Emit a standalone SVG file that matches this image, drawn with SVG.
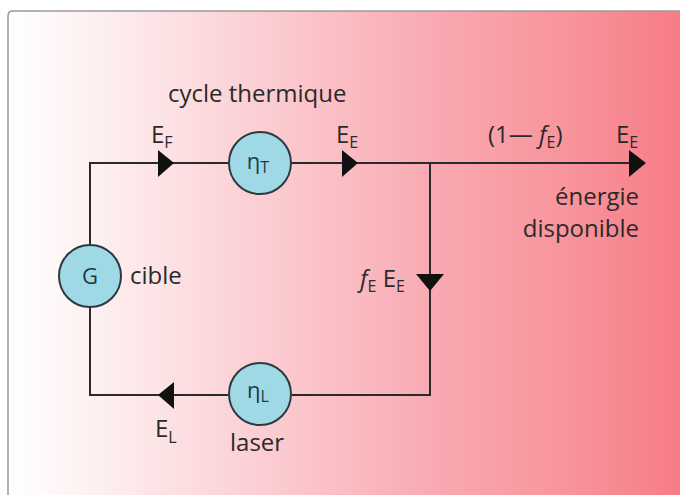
<svg xmlns="http://www.w3.org/2000/svg" width="680" height="501" viewBox="0 0 680 501">
<defs>
<linearGradient id="bg" x1="0" y1="0" x2="1" y2="0">
<stop offset="0" stop-color="#ffffff"/>
<stop offset="0.12" stop-color="#fef1f2"/>
<stop offset="0.38" stop-color="#fbcdd2"/>
<stop offset="0.62" stop-color="#f9aab2"/>
<stop offset="0.82" stop-color="#f8949c"/>
<stop offset="1" stop-color="#f77a86"/>
</linearGradient>
<style>
.ln{fill:none;stroke:#2a2a2a;stroke-width:2}
.ah{fill:#111}
.nd{fill:#9fd9e6;stroke:#2c3a40;stroke-width:2}
.t{font-family:"Open Sans","Liberation Sans",Arial,sans-serif;font-size:24px;fill:#2a2a2a}
.nt{font-family:"Open Sans","Liberation Sans",Arial,sans-serif;font-size:22px;fill:#1e3a48}
.s{font-size:16px}
.i{font-style:italic}
</style>
</defs>
<rect x="0" y="0" width="680" height="501" fill="#ffffff"/>
<path d="M8 495 V16 Q8 11 13 11 H690 V495 Z" fill="url(#bg)"/>
<path d="M8 495 V16 Q8 11 13 11 H680" fill="none" stroke="#9a9a9a" stroke-width="1.5"/>

<g id="connectors">
<path class="ln" d="M90 245 V163 H229"/>
<path class="ln" d="M291 163 H632"/>
<path class="ln" d="M430 163 V395 H292"/>
<path class="ln" d="M228 395 H90 V307"/>
<polygon class="ah" points="158,150 174,163 158,177"/>
<polygon class="ah" points="342,150 358,163 342,177"/>
<polygon class="ah" points="629,150 646,163 629,177"/>
<polygon class="ah" points="416,274 444,274 430,291"/>
<polygon class="ah" points="174,382 158,395 174,409"/>
</g>

<g id="node-etaT">
<circle class="nd" cx="260" cy="163" r="31"/>
<text class="nt" x="258" y="169" text-anchor="middle">η<tspan class="s" dy="4">T</tspan></text>
</g>
<g id="node-G">
<circle class="nd" cx="90" cy="276" r="31"/>
<text class="nt" x="90" y="284" text-anchor="middle">G</text>
</g>
<g id="node-etaL">
<circle class="nd" cx="260" cy="394" r="31"/>
<text class="nt" x="258" y="398" text-anchor="middle">η<tspan class="s" dy="4">L</tspan></text>
</g>

<g id="labels">
<text class="t" x="168" y="102">cycle thermique</text>
<text class="t" x="151" y="143">E<tspan class="s" dy="5">F</tspan></text>
<text class="t" x="336" y="143">E<tspan class="s" dy="5">E</tspan></text>
<text class="t" x="488" y="143">(1— <tspan class="i">f</tspan><tspan class="s" dy="5">E</tspan><tspan dy="-5">)</tspan></text>
<text class="t" x="616" y="143">E<tspan class="s" dy="5">E</tspan></text>
<text class="t" x="639" y="205" text-anchor="end">énergie</text>
<text class="t" x="639" y="237" text-anchor="end">disponible</text>
<text class="t" x="130" y="284">cible</text>
<text class="t" x="360" y="287"><tspan class="i">f</tspan><tspan class="s" dy="5">E</tspan><tspan dy="-5"> E</tspan><tspan class="s" dy="5">E</tspan></text>
<text class="t" x="155" y="437">E<tspan class="s" dy="6">L</tspan></text>
<text class="t" x="230" y="451">laser</text>
</g>
</svg>
